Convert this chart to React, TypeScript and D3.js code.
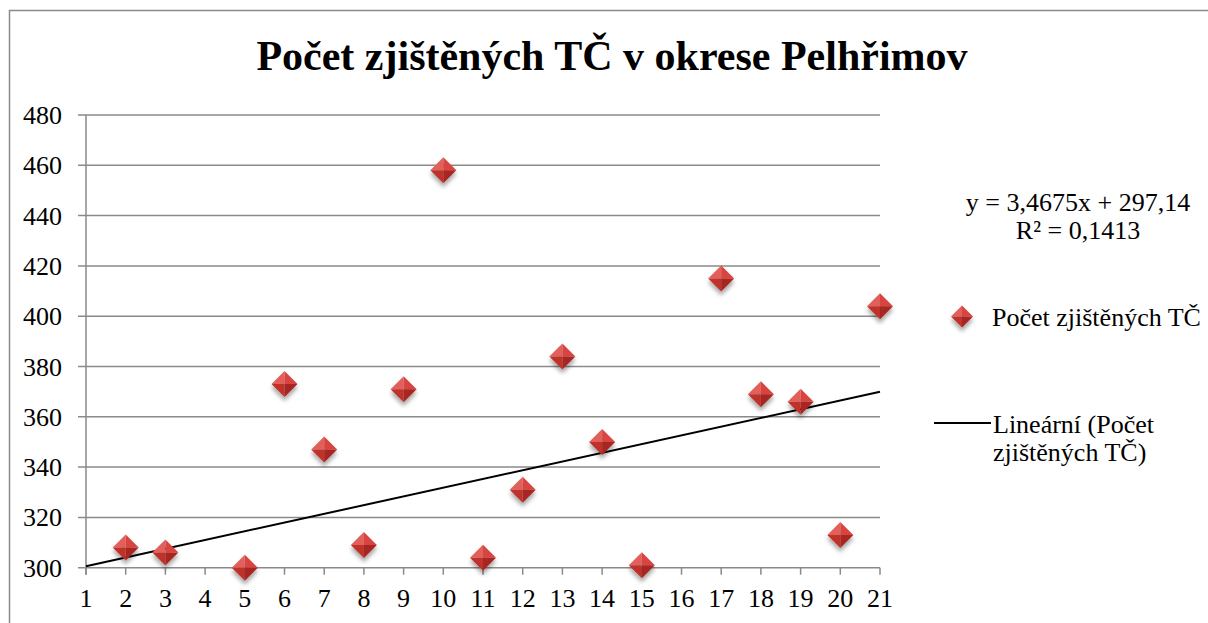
import React from 'react'
import * as d3 from 'd3'

const xValues = [2, 3, 5, 6, 7, 8, 9, 10, 11, 12, 13, 14, 15, 17, 18, 19, 20, 21]
const counts = [308, 306, 300, 373, 347, 309, 371, 458, 304, 331, 384, 350, 301, 415, 369, 366, 313, 404]
const xTicks = d3.range(1, 22)
const yTicks = [300, 320, 340, 360, 380, 400, 420, 440, 460, 480]
const slope = 3.4675
const intercept = 297.14

const title = 'Počet zjištěných TČ v okrese Pelhřimov'
const equation = 'y = 3,4675x + 297,14'
const rSquared = 'R² = 0,1413'
const seriesName = 'Počet zjištěných TČ'
const trendName = ['Lineární (Počet', 'zjištěných TČ)']

const serif = { fontFamily: 'Liberation Serif' }
const gridColor = '#8a8a8a'

const Diamond = ({ cx, cy, r }: { cx: number; cy: number; r: number }) => (
  <g transform={`translate(${cx},${cy})`} filter="url(#shadow)">
    <polygon points={`${-r},0 0,${-r} 0,0`} fill="#e2605b" />
    <polygon points={`0,${-r} ${r},0 0,0`} fill="#d8443f" />
    <polygon points={`${-r},0 0,0 0,${r}`} fill="#bf302c" />
    <polygon points={`0,0 ${r},0 0,${r}`} fill="#a82622" />
  </g>
)

const App = () => {
  const scaleX = d3.scaleLinear().domain([1, 21]).range([86, 880])
  const scaleY = d3.scaleLinear().domain([300, 480]).range([567.7, 115])

  const trend = d3
    .line<number>()
    .x(d => scaleX(d))
    .y(d => scaleY(slope * d + intercept))

  return (
    <svg width={1208} height={623} style={{ position: 'absolute', left: 0, top: 0 }}>
      <defs>
        <filter id="shadow" x="-50%" y="-50%" width="200%" height="220%">
          <feDropShadow dx="0" dy="4" stdDeviation="2.2" floodColor="#000" floodOpacity="0.35" />
        </filter>
      </defs>
      <rect x={0} y={0} width={1208} height={623} fill="#fff" />
      <rect x={9.5} y={10.5} width={1300} height={700} fill="none" stroke={gridColor} strokeWidth={1.5} />

      <text x={612} y={70} textAnchor="middle" fontSize={42} fontWeight="bold" style={serif}>{title}</text>

      <g>
        {yTicks.map(t => (
          <g key={t}>
            <line x1={78} x2={880} y1={scaleY(t)} y2={scaleY(t)} stroke={gridColor} strokeWidth={1.5} />
            <text x={62} y={scaleY(t) + 9} textAnchor="end" fontSize={26} style={serif}>{t}</text>
          </g>
        ))}
        <line x1={86} x2={86} y1={scaleY(480)} y2={scaleY(300) + 7} stroke={gridColor} strokeWidth={1.5} />
        {xTicks.map(t => (
          <g key={t}>
            <line x1={scaleX(t)} x2={scaleX(t)} y1={scaleY(300)} y2={scaleY(300) + 7} stroke={gridColor} strokeWidth={1.5} />
            <text x={scaleX(t)} y={607} textAnchor="middle" fontSize={26} style={serif}>{t}</text>
          </g>
        ))}
      </g>

      <path d={trend([1, 21]) || ''} fill="none" stroke="#000" strokeWidth={2} />

      <g>
        {xValues.map((x, i) => (
          <Diamond key={x} cx={scaleX(x)} cy={scaleY(counts[i])} r={13} />
        ))}
      </g>

      <g fontSize={26} textAnchor="middle">
        <text x={1078} y={211} style={serif}>{equation}</text>
        <text x={1078} y={239} style={serif}>{rSquared}</text>
      </g>

      <g fontSize={26}>
        <Diamond cx={962} cy={316.5} r={11} />
        <text x={992} y={326} style={serif}>{seriesName}</text>
        <line x1={934} x2={991} y1={423} y2={423} stroke="#000" strokeWidth={2} />
        <text x={993} y={433} style={serif}>{trendName[0]}</text>
        <text x={993} y={461} style={serif}>{trendName[1]}</text>
      </g>
    </svg>
  )
}

export default App
